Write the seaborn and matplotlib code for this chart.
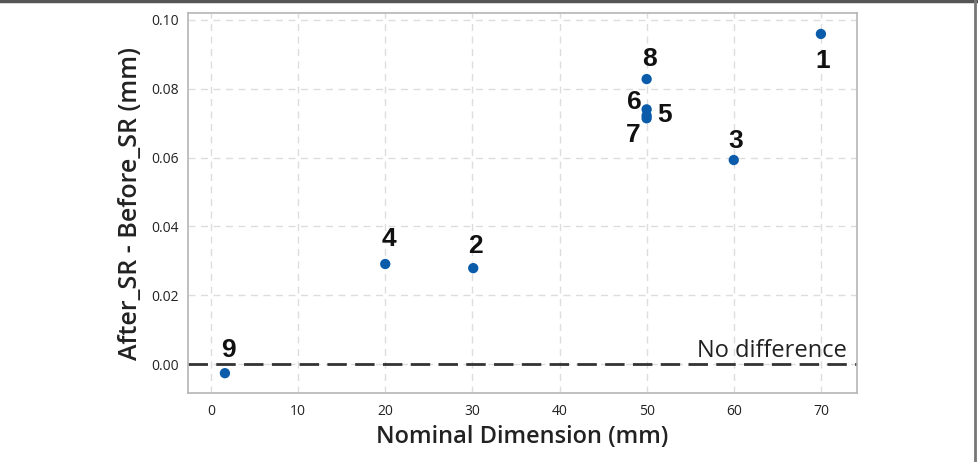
import numpy as np
import pandas as pd
import seaborn as sns
from matplotlib import pyplot as plt
from matplotlib.lines import Line2D

# values
point_ids = ["1", "2", "3", "4", "5", "6", "7", "8", "9"]
nominal = [70, 30.1, 60, 20, 50, 50, 50, 50, 1.6]
diff = [0.0959, 0.0279, 0.0593, 0.0291, 0.0722, 0.0740, 0.0714, 0.0828, -0.0026]
# label offsets in pixels (dx, dy)
label_offsets = {"1": (2, -27), "2": (2, 22), "3": (2, 19), "4": (4, 25),
                 "5": (18, 1), "6": (-12, 7), "7": (-13, -17), "8": (3, 20),
                 "9": (4, 23)}

df = pd.DataFrame({"id": point_ids, "x": nominal, "y": diff})

sns.set_style("whitegrid")
plt.rcParams["font.family"] = ["Open Sans", "DejaVu Sans"]

fig = plt.figure(figsize=(9.79, 4.62), dpi=100)
ax = fig.add_axes([0.192, 0.149, 0.683, 0.823])

sns.scatterplot(data=df, x="x", y="y", ax=ax, color="#0a5cab", s=55,
                edgecolor="none", zorder=3)

ax.axhline(0, color="#333333", lw=2, ls=(0, (7, 3)), zorder=2)
ax.text(73.0, 0.0005, "No difference", ha="right", va="bottom",
        fontsize=17, color="#222222")

for pid, xv, yv in zip(point_ids, nominal, diff):
    dx, dy = label_offsets[pid]
    ax.annotate(pid, (xv, yv), xytext=(dx, dy), textcoords="offset pixels",
                ha="center", va="center", fontsize=19, fontweight="bold",
                family="Liberation Sans", color="#111111")

ax.set_xlim(-2.64, 74.1)
ax.set_ylim(-0.0084, 0.102)
ax.set_xticks(np.arange(0, 71, 10))
ax.set_yticks(np.arange(0, 0.101, 0.02))
ax.set_yticklabels([f"{v:.2f}" for v in np.arange(0, 0.101, 0.02)])
ax.tick_params(labelsize=10, colors="#222222", length=3, color="#aaaaaa")
ax.tick_params(axis="x", length=0, pad=8)

ax.grid(True, color="#dddddd", ls=(0, (5, 4)), lw=1)
for s in ax.spines.values():
    s.set_color("#b5b5b5")
    s.set_linewidth(1.2)

ax.set_xlabel("Nominal Dimension (mm)", fontsize=17, fontweight="semibold",
              color="#222222", labelpad=4)
ax.set_ylabel("After_SR - Before_SR (mm)", fontsize=18, fontweight="semibold",
              color="#222222", labelpad=6)

# screenshot frame
fig.add_artist(Line2D([0, 1], [0.997, 0.997], color="#555555", lw=2.5))
fig.add_artist(Line2D([0.996, 0.996], [0, 1], color="#777777", lw=2))

fig.savefig("out.png", dpi=100)
